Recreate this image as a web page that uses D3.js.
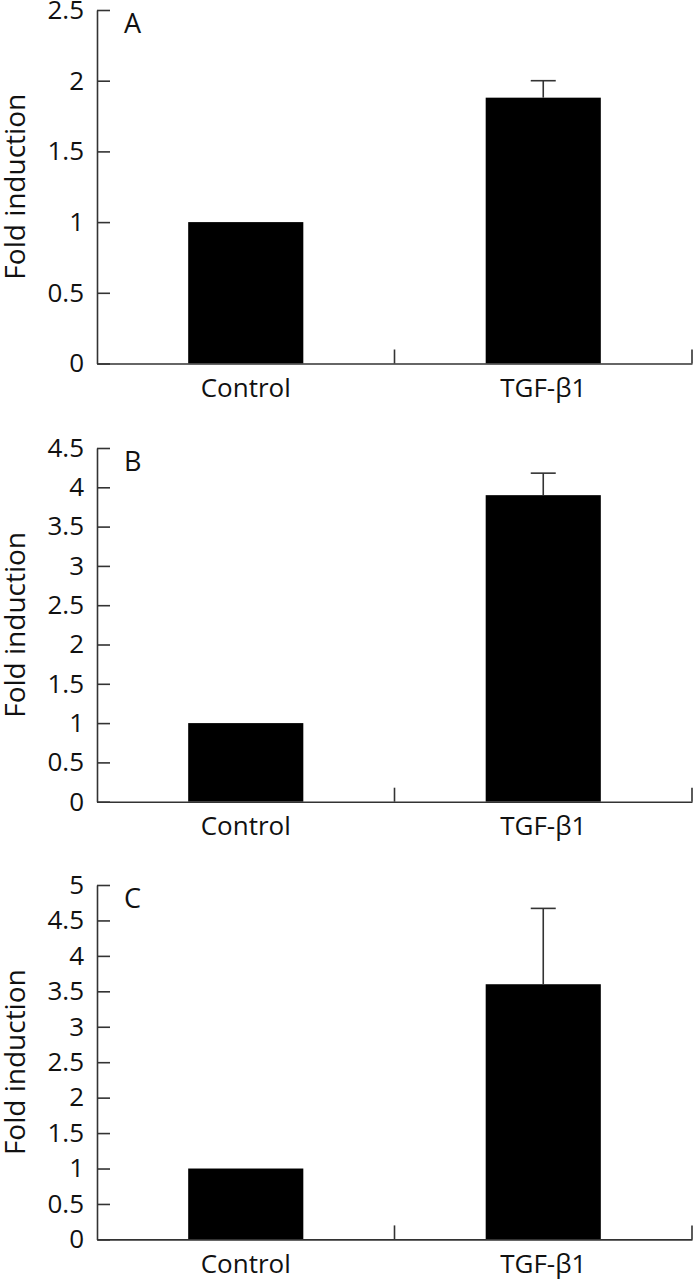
<!DOCTYPE html>
<html>
<head>
<meta charset="utf-8">
<script src="https://cdn.jsdelivr.net/npm/d3@7"></script>
<style>
  html, body { margin: 0; padding: 0; background: #fff; }
  svg { display: block; }
  text { font-family: "Open Sans", "DejaVu Sans", sans-serif; fill: #111; }
</style>
</head>
<body>
<svg id="chart" width="695" height="1280"></svg>
<script>
// ---- data ----
const categories = ["Control", "TGF-β1"];
const panelLetters = ["A", "B", "C"];
const valuesA = [1.0, 1.88];
const errorsA = [0, 0.12];
const valuesB = [1.0, 3.90];
const errorsB = [0, 0.28];
const valuesC = [1.0, 3.60];
const errorsC = [0, 1.07];
const yMaxes = [2.5, 4.5, 5];
const yTickStep = 0.5;
const yAxisTitle = "Fold induction";

// ---- layout ----
const svg = d3.select("#chart");
const axisColor = "#333";
const left = 97, right = 692;
const panelTops = [10, 448, 885];
const panelBottoms = [363.5, 801.7, 1239.4];
const seriesValues = [valuesA, valuesB, valuesC];
const seriesErrors = [errorsA, errorsB, errorsC];
const fontFamily = '"Open Sans", sans-serif';

const x = d3.scaleBand()
  .domain(categories)
  .range([left, right])
  .paddingInner(0.613)
  .paddingOuter(0.3065);

panelLetters.forEach((letter, i) => {
  const top = panelTops[i], bottom = panelBottoms[i];
  const yMax = yMaxes[i];
  const y = d3.scaleLinear().domain([0, yMax]).range([bottom, top]);
  const g = svg.append("g");
  const vals = seriesValues[i], errs = seriesErrors[i];

  // bars
  g.selectAll("rect.bar").data(categories).join("rect")
    .attr("class", "bar")
    .attr("x", d => x(d))
    .attr("width", x.bandwidth())
    .attr("y", (d, j) => y(vals[j]))
    .attr("height", (d, j) => y(0) - y(vals[j]))
    .attr("fill", "#000");

  // error bars (upper only)
  const errData = categories.map((c, j) => ({c, v: vals[j], e: errs[j]})).filter(d => d.e > 0);
  const capHalf = 12.5;
  errData.forEach(d => {
    const cx = x(d.c) + x.bandwidth() / 2;
    g.append("line")
      .attr("x1", cx).attr("x2", cx)
      .attr("y1", y(d.v)).attr("y2", y(d.v + d.e))
      .attr("stroke", axisColor).attr("stroke-width", 1.6);
    g.append("line")
      .attr("x1", cx - capHalf).attr("x2", cx + capHalf)
      .attr("y1", y(d.v + d.e)).attr("y2", y(d.v + d.e))
      .attr("stroke", axisColor).attr("stroke-width", 1.6);
  });

  // y axis
  const ticks = d3.range(0, yMax + 1e-9, yTickStep);
  const yAxis = d3.axisLeft(y)
    .tickValues(ticks)
    .tickFormat(d3.format("~g"))
    .tickSizeInner(-13)
    .tickSizeOuter(0)
    .tickPadding(13);
  const ya = g.append("g").attr("transform", `translate(${left},0)`).call(yAxis);
  ya.attr("font-size", 26).attr("font-family", fontFamily);
  ya.selectAll("path, line").attr("stroke", axisColor).attr("stroke-width", 1.6);
  ya.selectAll("text").attr("font-size", 26).attr("fill", "#111");

  // x axis
  const xAxis = d3.axisBottom(x).tickSize(0).tickPadding(15).tickSizeOuter(0);
  const xa = g.append("g").attr("transform", `translate(0,${bottom})`).call(xAxis);
  xa.attr("font-size", 26).attr("font-family", fontFamily);
  xa.select("path.domain").attr("stroke", axisColor).attr("stroke-width", 1.6);
  xa.selectAll("text").attr("font-size", 26).attr("fill", "#111");
  // category boundary ticks
  g.selectAll("line.bound").data(categories).join("line")
    .attr("class", "bound")
    .attr("x1", (d, j) => left + x.step() * (j + 1))
    .attr("x2", (d, j) => left + x.step() * (j + 1))
    .attr("y1", bottom).attr("y2", bottom - 14)
    .attr("stroke", axisColor).attr("stroke-width", 1.6);

  // panel letter
  g.append("text")
    .attr("x", 124).attr("y", top + 23)
    .attr("font-size", 27)
    .text(letter);

  // y-axis title
  g.append("text")
    .attr("transform", `translate(25,${(top + bottom) / 2}) rotate(-90)`)
    .attr("text-anchor", "middle")
    .attr("font-size", 28)
    .text(yAxisTitle);
});
</script>
</body>
</html>
